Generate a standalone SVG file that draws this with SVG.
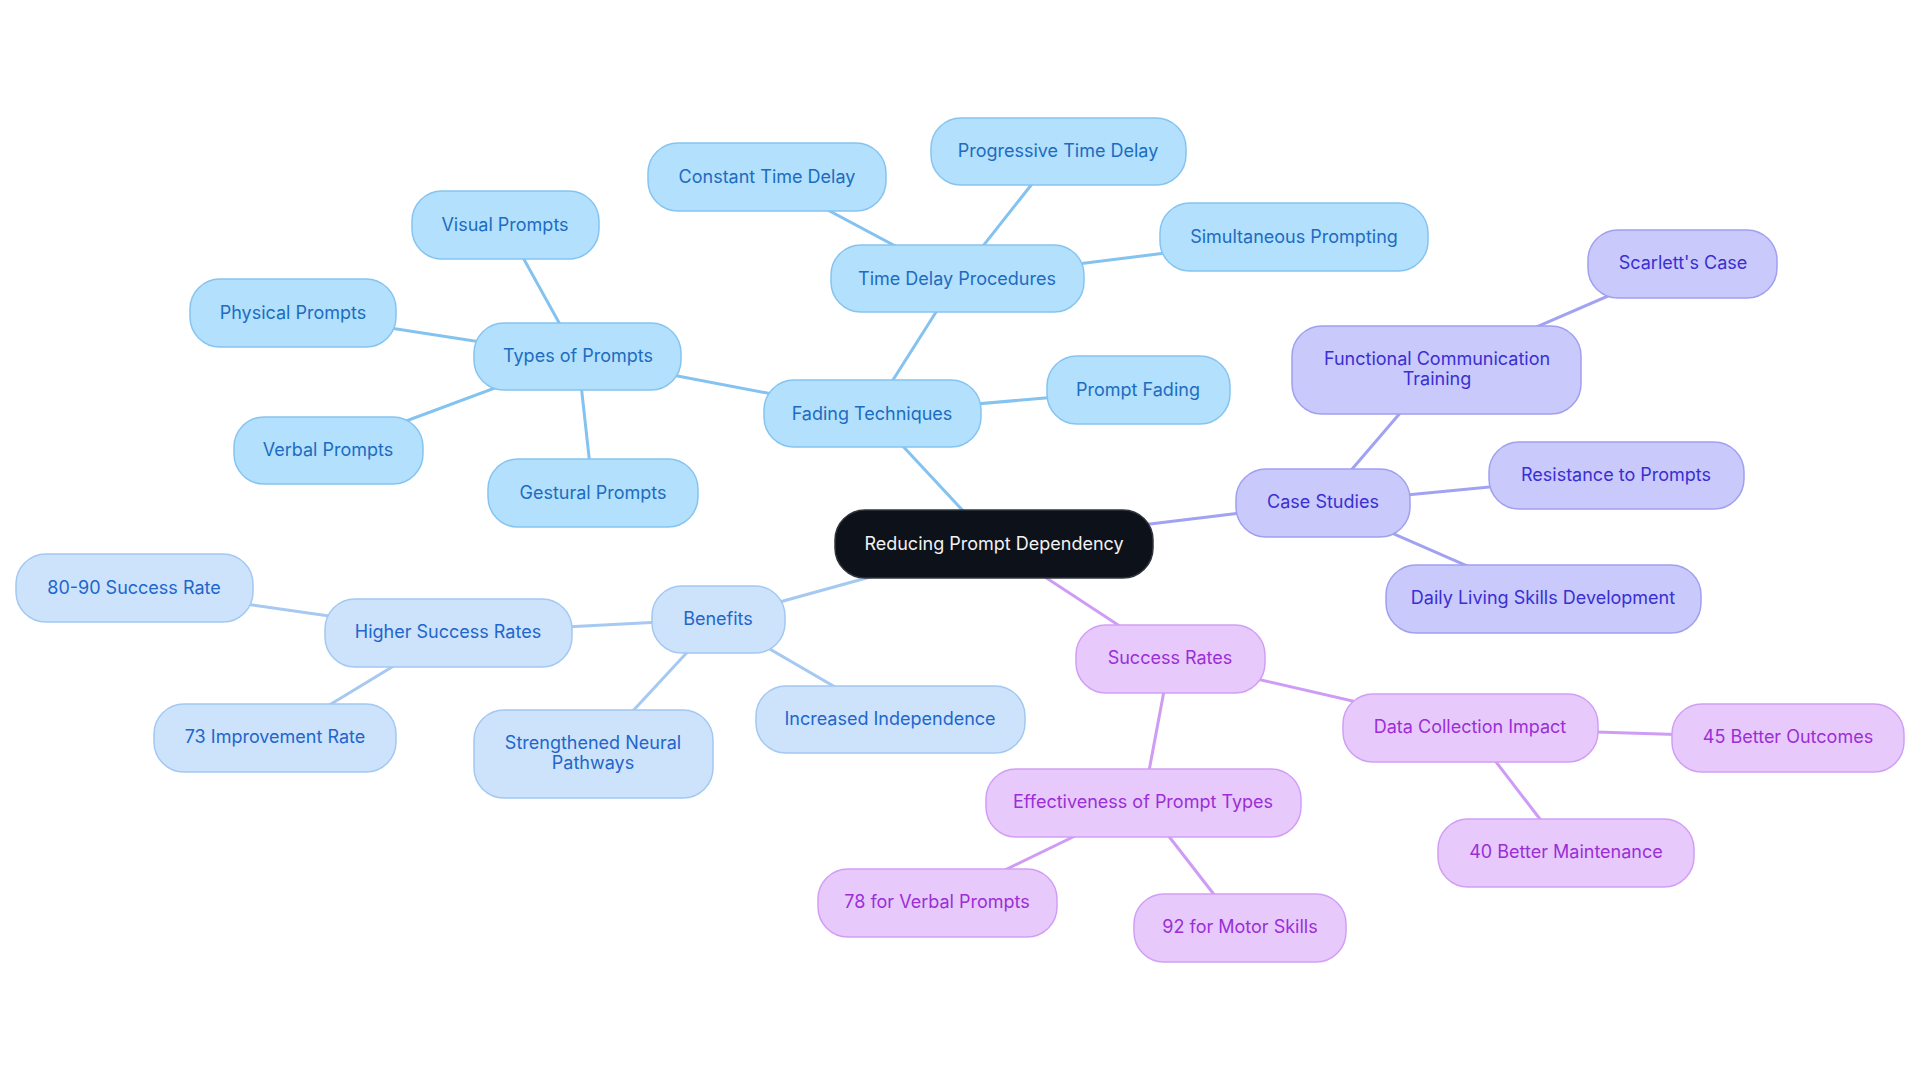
<svg xmlns="http://www.w3.org/2000/svg" width="1920" height="1083" viewBox="0 0 1920 1083">
<style>
text{font-family:Inter,"Open Sans","Liberation Sans",sans-serif;font-size:18px;text-anchor:middle;dominant-baseline:central}
.e{stroke-width:3;fill:none;stroke-linecap:round}
.eb{stroke:#84c2f0}.el{stroke:#a6c9f2}.ev{stroke:#a2a2f2}.ep{stroke:#cf9cf5}
.b rect{fill:#b3e0fd;stroke:#86c4f0;stroke-width:1.5}.b text{fill:#1d6cc0}
.l rect{fill:#cde3fb;stroke:#a3c8f2;stroke-width:1.5}.l text{fill:#2166cc}
.v rect{fill:#c9c9fc;stroke:#a0a0ef;stroke-width:1.5}.v text{fill:#3a2fd2}
.p rect{fill:#e8c9fc;stroke:#d19ef5;stroke-width:1.5}.p text{fill:#9a2fd6}
</style>
<rect width="1920" height="1083" fill="#ffffff"/>
<g id="connectors">
<line class="e eb" x1="993" y1="543" x2="872" y2="413"/>
<line class="e el" x1="993" y1="543" x2="718" y2="619"/>
<line class="e ev" x1="993" y1="543" x2="1323" y2="503"/>
<line class="e ep" x1="993" y1="543" x2="1170" y2="659"/>
<line class="e eb" x1="872" y1="413" x2="578" y2="357"/>
<line class="e eb" x1="872" y1="413" x2="957" y2="279"/>
<line class="e eb" x1="872" y1="413" x2="1138" y2="390"/>
<line class="e eb" x1="578" y1="357" x2="505" y2="225"/>
<line class="e eb" x1="578" y1="357" x2="293" y2="313"/>
<line class="e eb" x1="578" y1="357" x2="328" y2="450"/>
<line class="e eb" x1="578" y1="357" x2="593" y2="493"/>
<line class="e eb" x1="957" y1="279" x2="766" y2="177"/>
<line class="e eb" x1="957" y1="279" x2="1058" y2="151"/>
<line class="e eb" x1="957" y1="279" x2="1294" y2="237"/>
<line class="e el" x1="718" y1="619" x2="448" y2="633"/>
<line class="e el" x1="718" y1="619" x2="593" y2="754"/>
<line class="e el" x1="718" y1="619" x2="890" y2="719"/>
<line class="e el" x1="448" y1="633" x2="134" y2="588"/>
<line class="e el" x1="448" y1="633" x2="275" y2="738"/>
<line class="e ev" x1="1323" y1="503" x2="1437" y2="370"/>
<line class="e ev" x1="1323" y1="503" x2="1616" y2="475"/>
<line class="e ev" x1="1323" y1="503" x2="1543" y2="599"/>
<line class="e ev" x1="1437" y1="370" x2="1682" y2="264"/>
<line class="e ep" x1="1170" y1="659" x2="1470" y2="728"/>
<line class="e ep" x1="1170" y1="659" x2="1143" y2="803"/>
<line class="e ep" x1="1470" y1="728" x2="1788" y2="738"/>
<line class="e ep" x1="1470" y1="728" x2="1566" y2="853"/>
<line class="e ep" x1="1143" y1="803" x2="937" y2="903"/>
<line class="e ep" x1="1143" y1="803" x2="1240" y2="928"/>
</g>
<g id="root"><rect x="835" y="510" width="318" height="68" rx="30" fill="#0d1119" stroke="#30353c" stroke-width="1.5"/><text x="994" y="543" fill="#f2f2f2">Reducing Prompt Dependency</text></g>
<g id="fading" class="b"><rect x="764" y="380" width="217" height="67" rx="30"/><text x="872" y="413">Fading Techniques</text></g>
<g id="timedelay" class="b"><rect x="831" y="245" width="253" height="67" rx="30"/><text x="957" y="278">Time Delay Procedures</text></g>
<g id="constant" class="b"><rect x="648" y="143" width="238" height="68" rx="30"/><text x="767" y="176">Constant Time Delay</text></g>
<g id="progressive" class="b"><rect x="931" y="118" width="255" height="67" rx="30"/><text x="1058" y="150">Progressive Time Delay</text></g>
<g id="simultaneous" class="b"><rect x="1160" y="203" width="268" height="68" rx="30"/><text x="1294" y="236">Simultaneous Prompting</text></g>
<g id="promptfading" class="b"><rect x="1047" y="356" width="183" height="68" rx="30"/><text x="1138" y="389">Prompt Fading</text></g>
<g id="types" class="b"><rect x="474" y="323" width="207" height="67" rx="30"/><text x="578" y="355">Types of Prompts</text></g>
<g id="visual" class="b"><rect x="412" y="191" width="187" height="68" rx="30"/><text x="505" y="224">Visual Prompts</text></g>
<g id="physical" class="b"><rect x="190" y="279" width="206" height="68" rx="30"/><text x="293" y="312">Physical Prompts</text></g>
<g id="verbal" class="b"><rect x="234" y="417" width="189" height="67" rx="30"/><text x="328" y="449">Verbal Prompts</text></g>
<g id="gestural" class="b"><rect x="488" y="459" width="210" height="68" rx="30"/><text x="593" y="492">Gestural Prompts</text></g>
<g id="benefits" class="l"><rect x="652" y="586" width="133" height="67" rx="30"/><text x="718" y="618">Benefits</text></g>
<g id="higher" class="l"><rect x="325" y="599" width="247" height="68" rx="30"/><text x="448" y="631">Higher Success Rates</text></g>
<g id="s8090" class="l"><rect x="16" y="554" width="237" height="68" rx="30"/><text x="134" y="587">80-90 Success Rate</text></g>
<g id="s73" class="l"><rect x="154" y="704" width="242" height="68" rx="30"/><text x="275" y="736">73 Improvement Rate</text></g>
<g id="neural" class="l"><rect x="474" y="710" width="239" height="88" rx="30"/><text x="593" y="742">Strengthened Neural</text><text x="593" y="762">Pathways</text></g>
<g id="independence" class="l"><rect x="756" y="686" width="269" height="67" rx="30"/><text x="890" y="718">Increased Independence</text></g>
<g id="casestudies" class="v"><rect x="1236" y="469" width="174" height="68" rx="30"/><text x="1323" y="501">Case Studies</text></g>
<g id="fct" class="v"><rect x="1292" y="326" width="289" height="88" rx="30"/><text x="1437" y="358">Functional Communication</text><text x="1437" y="378">Training</text></g>
<g id="scarlett" class="v"><rect x="1588" y="230" width="189" height="68" rx="30"/><text x="1683" y="262">Scarlett's Case</text></g>
<g id="resistance" class="v"><rect x="1489" y="442" width="255" height="67" rx="30"/><text x="1616" y="474">Resistance to Prompts</text></g>
<g id="daily" class="v"><rect x="1386" y="565" width="315" height="68" rx="30"/><text x="1543" y="597">Daily Living Skills Development</text></g>
<g id="successrates" class="p"><rect x="1076" y="625" width="189" height="68" rx="30"/><text x="1170" y="657">Success Rates</text></g>
<g id="datacollection" class="p"><rect x="1343" y="694" width="255" height="68" rx="30"/><text x="1470" y="726">Data Collection Impact</text></g>
<g id="o45" class="p"><rect x="1672" y="704" width="232" height="68" rx="30"/><text x="1788" y="736">45 Better Outcomes</text></g>
<g id="m40" class="p"><rect x="1438" y="819" width="256" height="68" rx="30"/><text x="1566" y="851">40 Better Maintenance</text></g>
<g id="effectiveness" class="p"><rect x="986" y="769" width="315" height="68" rx="30"/><text x="1143" y="801">Effectiveness of Prompt Types</text></g>
<g id="v78" class="p"><rect x="818" y="869" width="239" height="68" rx="30"/><text x="937" y="901">78 for Verbal Prompts</text></g>
<g id="m92" class="p"><rect x="1134" y="894" width="212" height="68" rx="30"/><text x="1240" y="926">92 for Motor Skills</text></g>
</svg>
